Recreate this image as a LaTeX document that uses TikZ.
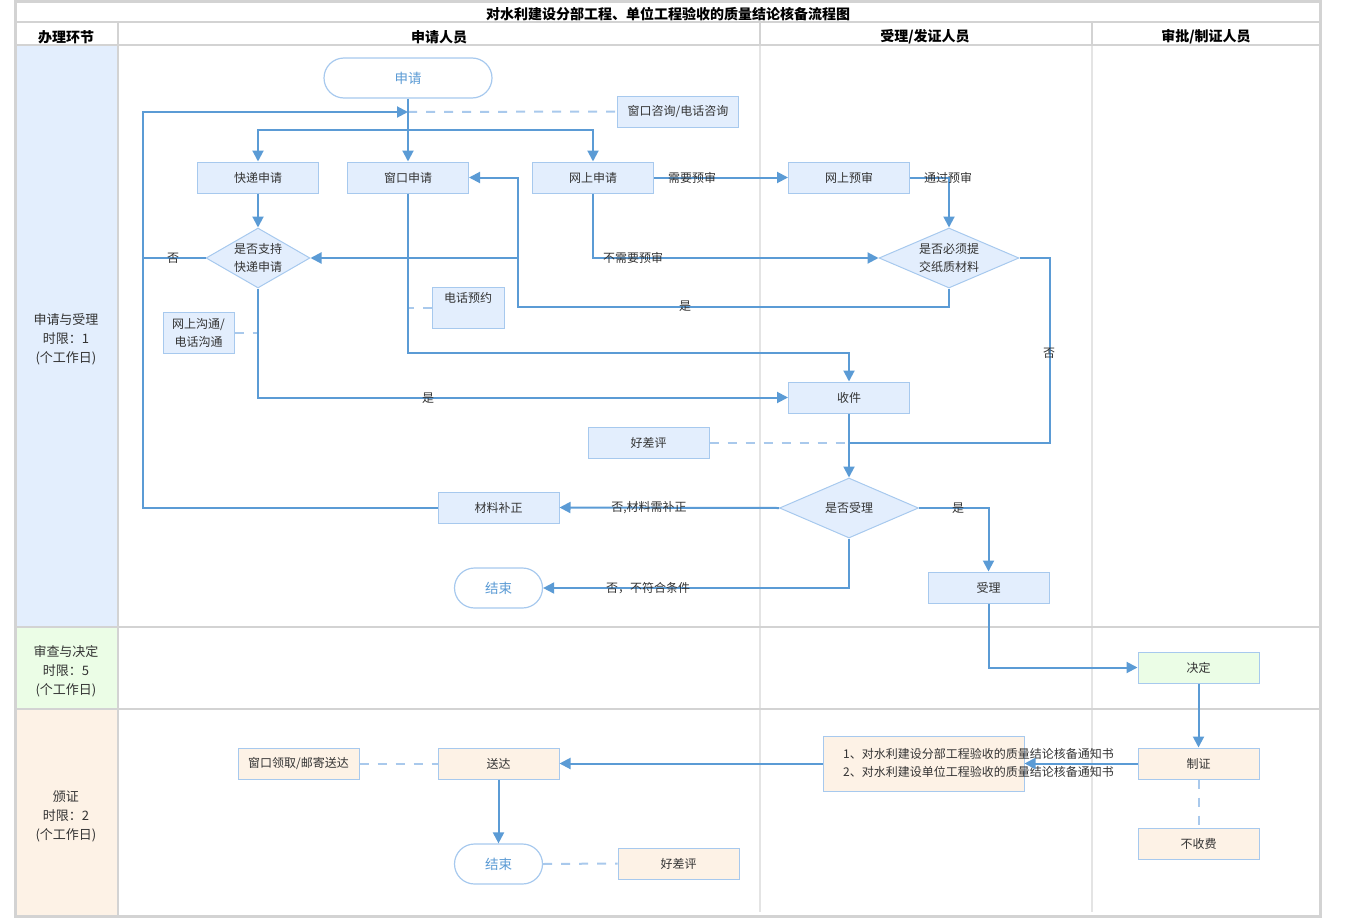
\documentclass[tikz,border=0pt]{standalone}
\usepackage{fontspec}
\setmainfont{Noto Sans CJK SC}
\usetikzlibrary{arrows.meta,shapes.geometric,calc}
\definecolor{lineblue}{HTML}{5B9BD5}
\definecolor{dashblue}{HTML}{A9C9EC}
\definecolor{boxline}{HTML}{A7C9EE}
\definecolor{boxfill}{HTML}{E3EEFD}
\definecolor{greenfill}{HTML}{EBFDE6}
\definecolor{orangefill}{HTML}{FDF2E6}
\definecolor{gridgray}{HTML}{D3D3D3}
\definecolor{lightgray}{HTML}{E4E4E4}
\definecolor{txt}{HTML}{333333}
\tikzset{
  arr/.style={draw=lineblue, line width=2pt, -{Triangle[length=11pt,width=11pt]}},
  ln/.style={draw=lineblue, line width=2pt},
  dsh/.style={draw=dashblue, line width=2pt, dash pattern=on 9pt off 9pt},
  box/.style={draw=boxline, fill=boxfill, line width=1pt, minimum width=121pt, minimum height=31pt, inner sep=0pt, font=\fontsize{12}{18}\selectfont, text=txt, align=center},
  obox/.style={box, fill=orangefill},
  gbox/.style={box, fill=greenfill},
  term/.style={draw=boxline, fill=white, line width=1.2pt, rounded corners=20pt, minimum height=40pt, inner sep=0pt, font=\fontsize{13.5}{16}\selectfont, text=lineblue},
  dia/.style={diamond, draw=boxline, fill=boxfill, line width=1pt, inner sep=0pt, font=\fontsize{12}{18}\selectfont, text=txt, align=center},
  lbl/.style={font=\fontsize{12}{14}\selectfont, text=txt, inner sep=0pt},
  lane/.style={font=\fontsize{13}{19}\selectfont, text=txt, align=center},
  hdr/.style={font=\bfseries\fontsize{14}{16}\selectfont, text=black},
}
\begin{document}
\begin{tikzpicture}[x=1pt,y=-1pt]
\useasboundingbox (0,0) rectangle (1350,918);
% lane fills
\fill[boxfill] (15,45) rectangle (118,627);
\fill[greenfill] (15,627) rectangle (118,709);
\fill[orangefill] (15,709) rectangle (118,916);
% body light separators
\draw[lightgray, line width=2pt] (760,45) -- (760,912);
\draw[lightgray, line width=2pt] (1092,45) -- (1092,912);
% grid
\draw[gridgray, line width=2.5pt] (15,22) -- (1320,22);
\draw[gridgray, line width=2.5pt] (15,45) -- (1320,45);
\draw[gridgray, line width=2.5pt] (15,627) -- (1320,627);
\draw[gridgray, line width=2.5pt] (15,709) -- (1320,709);
\draw[gridgray, line width=2.5pt] (118,22) -- (118,916);
\draw[gridgray, line width=2.5pt] (760,22) -- (760,45);
\draw[gridgray, line width=2.5pt] (1092,22) -- (1092,45);
\draw[gridgray, line width=3pt] (15,1.5) rectangle (1320,916);
% headers
\node[hdr] (title) at (668,14) {对水利建设分部工程、单位工程验收的质量结论核备流程图};
\node[hdr] (h1) at (66,37) {办理环节};
\node[hdr] (h2) at (439,37) {申请人员};
\node[hdr] (h3) at (925,37) {受理/发证人员};
\node[hdr] (h4) at (1206,37) {审批/制证人员};
\node[lane] (l1) at (66,339) {申请与受理\\时限：1\\(个工作日)};
\node[lane] (l2) at (66,671) {审查与决定\\时限：5\\(个工作日)};
\node[lane] (l3) at (66,816) {颁证\\时限：2\\(个工作日)};
% nodes
\node[term, minimum width=168pt] (sq) at (408,78) {申请};
\node[box] (zx) at (678,111.5) {窗口咨询/电话咨询};
\node[box] (kd) at (258,177.5) {快递申请};
\node[box] (ck) at (408,177.5) {窗口申请};
\node[box] (ws) at (593,177.5) {网上申请};
\node[box] (wy) at (849,177.5) {网上预审};
\node[dia, minimum width=104pt, minimum height=60pt, aspect=1.73] (d1) at (258,258) {是否支持\\快递申请};
\node[dia, minimum width=140pt, minimum height=60pt, aspect=2.33] (d2) at (949,258) {是否必须提\\交纸质材料};
\node[box, minimum width=72pt, minimum height=41pt] (dy) at (468,307.5) {};
\node[lbl] (dyt) at (468,298) {电话预约};
\node[box, minimum width=71pt, minimum height=41pt, font=\fontsize{12}{18}\selectfont] (wg) at (198.5,332.5) {网上沟通/\\电话沟通};
\node[box] (sj) at (849,397.5) {收件};
\node[box] (hp1) at (648.5,442.5) {好差评};
\node[dia, minimum width=139pt, minimum height=60pt, aspect=2.3] (d3) at (849,508) {是否受理};
\node[box] (bz) at (498.5,507.5) {材料补正};
\node[term, minimum width=88pt] (js1) at (498.5,588) {结束};
\node[box] (sl) at (988.5,587.5) {受理};
\node[gbox] (jd) at (1198.5,667.5) {决定};
\node[obox] (zz) at (1198.5,763.5) {制证};
\node[obox] (bsf) at (1198.5,843.5) {不收费};
\node[obox, minimum width=201pt, minimum height=55pt] (tz) at (923.5,763.5) {};
\node[lbl, anchor=west, align=left, font=\fontsize{12}{18}\selectfont] (tzt) at (843,763) {1、对水利建设分部工程验收的质量结论核备通知书\\2、对水利建设单位工程验收的质量结论核备通知书};
\node[obox] (sd) at (498.5,763.5) {送达};
\node[obox] (lq) at (298.5,763.5) {窗口领取/邮寄送达};
\node[term, minimum width=88pt] (js2) at (498.5,864) {结束};
\node[obox] (hp2) at (678.5,863.5) {好差评};
% coordinates
\coordinate (br) at (408,130);
\coordinate (sqj) at (408,112);
\coordinate (lpTop) at (143,112);
\coordinate (lpBot) at (143,507.5);
\coordinate (lpMid) at (143,258);
\coordinate (wgj) at (258,332.5);
\coordinate (c1) at (408,352.5);
\coordinate (dyj) at (408,307.5);
\coordinate (s1) at (949,306.5);
\coordinate (s2) at (518,306.5);
\coordinate (s3) at (518,177.5);
\coordinate (s4) at (518,258);
\coordinate (n1) at (1050,258);
\coordinate (n2) at (1050,442.5);
\coordinate (n3) at (849,442.5);
% connectors
\draw[dsh] (sqj) -- (zx.west);
\draw[dsh] (wg.east) -- (wgj);
\draw[dsh] (dy.west) -- (dyj);
\draw[dsh] (hp1.east) -- (n3);
\draw[dsh] (zz.south) -- (bsf.north);
\draw[dsh] (lq.east) -- (sd.west);
\draw[dsh] (js2.east) -- (hp2.west);
\draw[arr] (sq.south) -- (ck.north);
\draw[arr] (br) -| (kd.north);
\draw[arr] (br) -| (ws.north);
\draw[arr] (bz.west) -- (lpBot) -- (lpTop) -- (sqj);
\draw[ln] (d1.west) -- (lpMid);
\node[lbl] (no1) at (173,258) {否};
\draw[arr] (kd.south) -- (d1.north);
\draw[arr] (d1.south) |- (sj.west);
\node[lbl] (yes1) at (428,398) {是};
\draw[arr] (ck.south) -- (c1) -| (sj.north);
\draw[arr] (ws.east) -- (wy.west);
\node[lbl] (lb1) at (692,178) {需要预审};
\draw[arr] (ws.south) |- (d2.west);
\node[lbl] (lb2) at (633,258) {不需要预审};
\draw[arr] (wy.east) -| (d2.north);
\node[lbl] (lb3) at (948,178) {通过预审};
\draw[arr] (d2.south) -- (s1) -- (s2) -- (s3) -- (ck.east);
\draw[arr] (s4) -- (d1.east);
\node[lbl] (yes2) at (685,306) {是};
\draw[ln] (d2.east) -- (n1) -- (n2) -- (n3);
\node[lbl] (no2) at (1049,353) {否};
\draw[arr] (sj.south) -- (d3.north);
\draw[arr] (d3.west) -- (bz.east);
\node[lbl] (lb4) at (649,508) {否,材料需补正};
\draw[arr] (d3.south) |- (js1.east);
\node[lbl] (lb5) at (648,588) {否，不符合条件};
\draw[arr] (d3.east) -| (sl.north);
\node[lbl] (yes3) at (958,508) {是};
\draw[arr] (sl.south) |- (jd.west);
\draw[arr] (jd.south) -- (zz.north);
\draw[arr] (zz.west) -- (tz.east);
\draw[arr] (tz.west) -- (sd.east);
\draw[arr] (sd.south) -- (js2.north);
\end{tikzpicture}
\end{document}
